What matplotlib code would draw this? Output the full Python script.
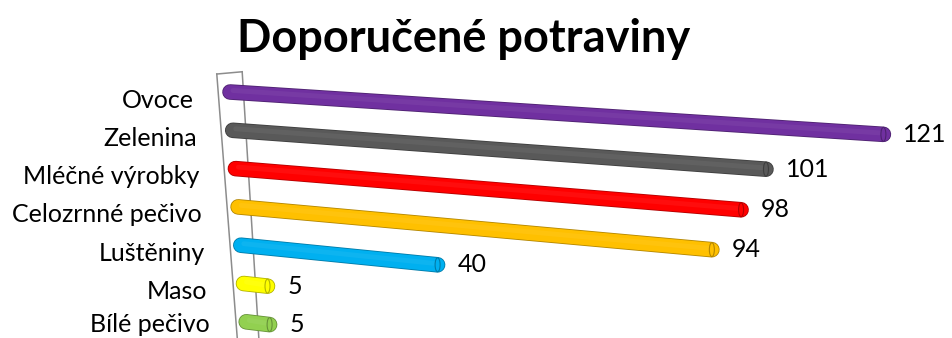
import matplotlib.pyplot as plt
import matplotlib.colors as mcolors
from matplotlib.patches import Ellipse
import matplotlib.patheffects as pe

categories = ["Ovoce", "Zelenina", "Mléčné výrobky", "Celozrnné pečivo",
              "Luštěniny", "Maso", "Bílé pečivo"]
values = [121, 101, 98, 94, 40, 5, 5]
colors = ["#7030A0", "#595959", "#FF0000", "#FFC000", "#00B0F0", "#FFFF00", "#92D050"]
title = "Doporučené potraviny"


def proj(v, r):
    # fake 3d perspective: value v along row r -> pixel position
    x = 230 + 2.7 * r + (5.40 - 0.12 * r) * v
    y = 92 + 38.3 * r + (0.35 + 0.035 * r) * v
    return x, y


def shade(c, k):
    r, g, b = mcolors.to_rgb(c)
    if k < 1:
        return (r * k, g * k, b * k)
    return (r + (1 - r) * (k - 1), g + (1 - g) * (k - 1), b + (1 - b) * (k - 1))


plt.rcParams['font.family'] = ['Lato', 'DejaVu Sans']
fig = plt.figure(figsize=(9.53, 3.38), dpi=100)
ax = fig.add_axes([0, 0, 1, 1])
ax.set_xlim(0, 953)
ax.set_ylim(338, 0)
ax.axis("off")

# side wall
wall = "#8c8c8c"
for pts in [[(-2.2, -0.45), (-2.2, 6.9)],
            [(2.5, -0.55), (2.5, 6.9)],
            [(-2.2, -0.45), (2.5, -0.55)]]:
    xs, ys = zip(*[proj(*p) for p in pts])
    ax.plot(xs, ys, color=wall, lw=1.1, zorder=1)

for i, (cat, v, c) in enumerate(zip(categories, values, colors)):
    x0, y0 = proj(0, i)
    x1, y1 = proj(v, i)
    ax.plot([x0, x1], [y0, y1], color=c, lw=10.0, solid_capstyle="round", zorder=3,
            path_effects=[pe.Stroke(linewidth=11.2, foreground=shade(c, 0.7)), pe.Normal()])
    # soft highlight along the top of the cylinder
    ax.plot([x0 + 3, x1 - 4], [y0 - 1.5, y1 - 1.5], color=shade(c, 1.15), lw=3.5,
            alpha=0.35, solid_capstyle="round", zorder=4)
    ax.add_patch(Ellipse((x1, y1), 5, 14, facecolor=c,
                         edgecolor=shade(c, 0.7), lw=0.8, zorder=5))
    dy = min(8, 324 - y0)  # keep the last label inside the figure
    ax.annotate(cat, (x0, y0), xytext=(-36, -dy), textcoords="offset pixels",
                ha="right", va="center", fontsize=18, color="black")
    ax.annotate(str(v), (x1, y1), xytext=(20, 0), textcoords="offset pixels",
                ha="left", va="center", fontsize=18, color="black")

fig.text(0.4864, 0.885, title, ha="center", va="center", fontsize=32.5,
         fontweight="bold", color="black")

fig.savefig("out.png", dpi=100)
